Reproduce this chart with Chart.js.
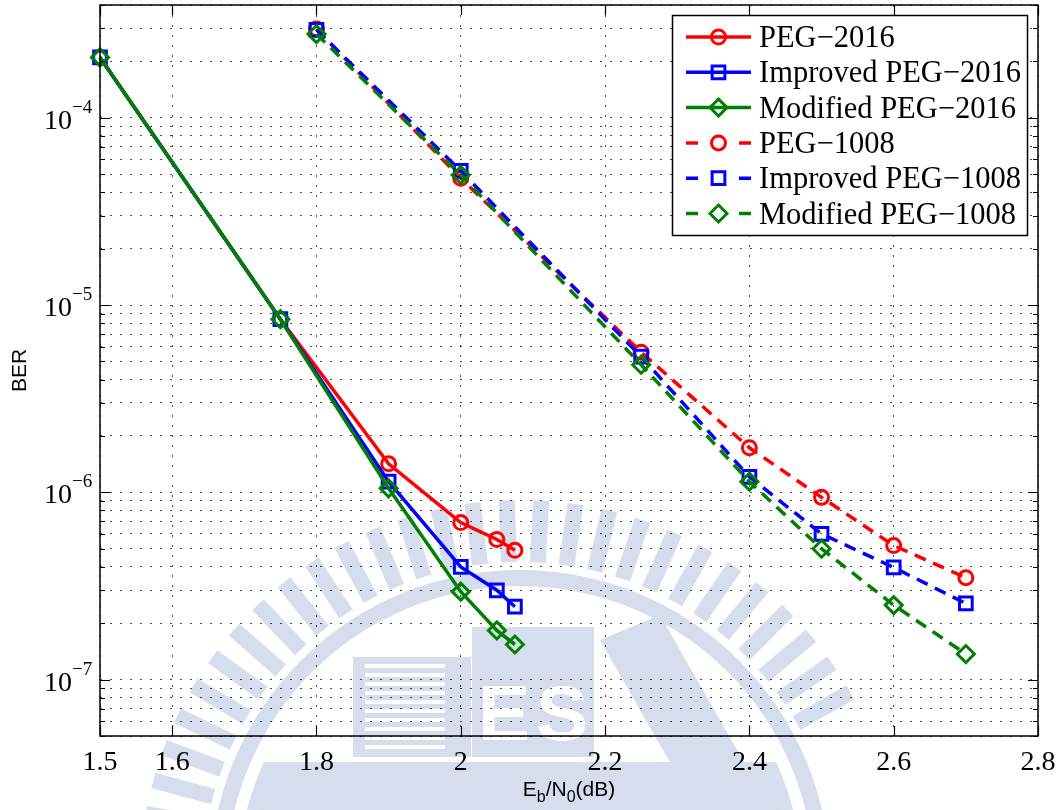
<!DOCTYPE html>
<html>
<head>
<meta charset="utf-8">
<title>BER</title>
<script src="https://cdn.jsdelivr.net/npm/chart.js@4.4.1/dist/chart.umd.min.js"></script>
<style>
  body { margin: 0; background: #fff; }
  canvas { display: block; }
</style>
</head>
<body>
<canvas id="myChart" width="1064" height="810"></canvas>
<script>
// ======================== DATA
const ebn0_2016 = [1.5, 1.75, 1.9, 2.0, 2.05, 2.075]
const peg2016 = [2.1e-4, 8.4e-6, 1.42e-6, 6.9e-7, 5.6e-7, 4.9e-7]
const improved2016 = [2.1e-4, 8.4e-6, 1.14e-6, 4.0e-7, 3.0e-7, 2.45e-7]
const modified2016 = [2.1e-4, 8.4e-6, 1.05e-6, 2.95e-7, 1.83e-7, 1.54e-7]

const ebn0_1008 = [1.8, 2.0, 2.25, 2.4, 2.5, 2.6, 2.7]
const peg1008 = [2.98e-4, 4.75e-5, 5.6e-6, 1.73e-6, 9.4e-7, 5.2e-7, 3.5e-7]
const improved1008 = [2.95e-4, 5.2e-5, 5.3e-6, 1.21e-6, 6.0e-7, 3.97e-7, 2.55e-7]
const modified1008 = [2.8e-4, 4.95e-5, 4.8e-6, 1.14e-6, 5.0e-7, 2.5e-7, 1.37e-7]

const seriesNames = ['PEG\u22122016', 'Improved PEG\u22122016', 'Modified PEG\u22122016',
                     'PEG\u22121008', 'Improved PEG\u22121008', 'Modified PEG\u22121008']

const xTicks = [1.5, 1.6, 1.8, 2.0, 2.2, 2.4, 2.6, 2.8]
const xTickLabels = ['1.5', '1.6', '1.8', '2', '2.2', '2.4', '2.6', '2.8']
const yDecades = [-8, -7, -6, -5, -4]
const yLabelExps = [-7, -6, -5, -4]
const yMin = 5e-8
const yMax = 4e-4

// ======================== STYLE
const RED = '#ff0000'
const BLUE = '#0000ff'
const GREEN = '#008000'
const SEAL = '#d6ddec'
const SERIF = '"Liberation Serif", "Times New Roman", serif'
const SANS = '"Liberation Sans", Arial, sans-serif'

function pts(xs, ys) {
  return xs.map((x, i) => ({ x: x, y: ys[i] }))
}

function series(label, xs, ys, color, style, radius, dashed, order) {
  return {
    label: label,
    data: pts(xs, ys),
    borderColor: color,
    backgroundColor: color,
    borderWidth: 3.5,
    borderDash: dashed ? [12, 8] : [],
    pointStyle: style,
    pointRadius: radius,
    pointHoverRadius: radius,
    pointBorderWidth: 3,
    pointBorderColor: color,
    pointBackgroundColor: 'rgba(0,0,0,0)',
    tension: 0,
    clip: false,
    order: order
  }
}

// all log grid values 1..9 x 10^k inside the axis range
let yGrid = []
yDecades.forEach(function (e) {
  for (let m = 1; m <= 9; m++) {
    let v = m * Math.pow(10, e)
    if (v >= yMin && v <= yMax) yGrid.push(v)
  }
})

// ======================== WATERMARK (school seal, pale blue)
function drawSeal(ctx) {
  const cx = 520, cy = 880
  ctx.save()
  ctx.fillStyle = SEAL
  // teeth ring
  for (let a = 190; a <= 335; a += 5.2) {
    let r = a * Math.PI / 180
    ctx.save()
    ctx.translate(cx, cy)
    ctx.rotate(r + Math.PI / 2)
    ctx.fillRect(-8, -380, 16, 62)
    ctx.restore()
  }
  // band under the teeth
  ctx.beginPath()
  ctx.arc(cx, cy, 310, Math.PI, 2 * Math.PI)
  ctx.arc(cx, cy, 294, 2 * Math.PI, Math.PI, true)
  ctx.fill()
  // lower disc
  ctx.beginPath()
  ctx.arc(cx, cy, 282, Math.PI * 1.08, Math.PI * 1.92)
  ctx.lineTo(cx + 250, 810)
  ctx.lineTo(cx - 250, 810)
  ctx.closePath()
  ctx.save()
  ctx.clip()
  ctx.fillRect(0, 762, 1064, 60)
  ctx.restore()
  // building with stripes
  ctx.fillRect(353, 657, 118, 100)
  ctx.fillStyle = '#fff'
  for (let y = 664; y < 752; y += 9) ctx.fillRect(365, y, 80, 4)
  // letter block
  ctx.fillStyle = SEAL
  ctx.fillRect(472, 627, 122, 130)
  ctx.fillStyle = '#fff'
  ctx.font = 'bold 78px ' + SANS
  ctx.textBaseline = 'alphabetic'
  ctx.fillText('E', 478, 740)
  ctx.fillText('S', 536, 740)
  // slanted A
  ctx.fillStyle = SEAL
  ctx.beginPath()
  ctx.moveTo(600, 640)
  ctx.lineTo(660, 615)
  ctx.lineTo(760, 790)
  ctx.lineTo(700, 815)
  ctx.closePath()
  ctx.fill()
  ctx.restore()
}

// ======================== AXES, TICKS, LABELS, LEGEND
function marker(ctx, style, x, y, r) {
  ctx.beginPath()
  if (style === 'circle') {
    ctx.arc(x, y, r, 0, Math.PI * 2)
  } else if (style === 'rect') {
    let s = r * Math.SQRT1_2
    ctx.rect(x - s, y - s, 2 * s, 2 * s)
  } else {
    ctx.moveTo(x, y - r)
    ctx.lineTo(x + r, y)
    ctx.lineTo(x, y + r)
    ctx.lineTo(x - r, y)
    ctx.closePath()
  }
  ctx.stroke()
}

const plotExtras = {
  id: 'plotExtras',
  beforeDraw(chart) {
    const ctx = chart.ctx
    ctx.save()
    ctx.fillStyle = '#fff'
    ctx.fillRect(0, 0, chart.width, chart.height)
    drawSeal(ctx)
    ctx.restore()
  },
  afterDraw(chart) {
    const ctx = chart.ctx
    const a = chart.chartArea
    const xs = chart.scales.x
    const ys = chart.scales.y
    ctx.save()

    // box
    ctx.strokeStyle = '#000'
    ctx.lineWidth = 1.5
    ctx.setLineDash([])
    ctx.strokeRect(a.left, a.top, a.right - a.left, a.bottom - a.top)

    // inward ticks
    ctx.lineWidth = 1.2
    ctx.beginPath()
    xTicks.forEach(function (v) {
      let px = Math.round(xs.getPixelForValue(v)) + 0.5
      ctx.moveTo(px, a.bottom); ctx.lineTo(px, a.bottom - 10)
      ctx.moveTo(px, a.top); ctx.lineTo(px, a.top + 10)
    })
    yGrid.forEach(function (v) {
      let py = Math.round(ys.getPixelForValue(v)) + 0.5
      let major = Math.abs(Math.log10(v) - Math.round(Math.log10(v))) < 1e-9
      let len = major ? 10 : 5
      ctx.moveTo(a.left, py); ctx.lineTo(a.left + len, py)
      ctx.moveTo(a.right, py); ctx.lineTo(a.right - len, py)
    })
    ctx.stroke()

    // x tick labels
    ctx.fillStyle = '#000'
    ctx.font = '28px ' + SERIF
    ctx.textAlign = 'center'
    ctx.textBaseline = 'alphabetic'
    xTicks.forEach(function (v, i) {
      ctx.fillText(xTickLabels[i], xs.getPixelForValue(v), 770)
    })

    // y tick labels 10^k
    yLabelExps.forEach(function (e) {
      let py = ys.getPixelForValue(Math.pow(10, e))
      ctx.font = '28px ' + SERIF
      ctx.textAlign = 'right'
      ctx.fillText('10', 72, py + 11)
      ctx.font = '19px ' + SERIF
      ctx.textAlign = 'left'
      ctx.fillText('\u2212' + Math.abs(e), 72, py - 5)
    })

    // axis titles
    ctx.textAlign = 'left'
    let parts = [['E', 0, 21], ['b', 6, 16], ['/N', 0, 21], ['0', 6, 16], ['(dB)', 0, 21]]
    let w = 0
    parts.forEach(function (p) { ctx.font = p[2] + 'px ' + SANS; w += ctx.measureText(p[0]).width })
    let tx = (a.left + a.right) / 2 - w / 2
    parts.forEach(function (p) {
      ctx.font = p[2] + 'px ' + SANS
      ctx.fillText(p[0], tx, 796 + p[1])
      tx += ctx.measureText(p[0]).width
    })
    ctx.save()
    ctx.translate(26, (a.top + a.bottom) / 2)
    ctx.rotate(-Math.PI / 2)
    ctx.font = '21px ' + SANS
    ctx.textAlign = 'center'
    ctx.fillText('BER', 0, 0)
    ctx.restore()

    // legend
    const lx = 672, ly = 15, lw = 355, lh = 220
    ctx.fillStyle = '#fff'
    ctx.fillRect(lx, ly, lw, lh)
    ctx.strokeStyle = '#000'
    ctx.lineWidth = 1.5
    ctx.strokeRect(lx + 0.5, ly + 0.5, lw, lh)
    chart.data.datasets.forEach(function (ds, i) {
      let cy = 37 + i * 35.3
      ctx.strokeStyle = ds.borderColor
      ctx.lineWidth = 3.5
      ctx.beginPath()
      if (ds.borderDash.length) {
        ctx.moveTo(686, cy); ctx.lineTo(698, cy)
        ctx.moveTo(739, cy); ctx.lineTo(751, cy)
      } else {
        ctx.moveTo(686, cy); ctx.lineTo(751, cy)
      }
      ctx.stroke()
      ctx.lineWidth = 3
      marker(ctx, ds.pointStyle, 718.5, cy, ds.pointRadius)
      ctx.fillStyle = '#000'
      ctx.font = '30.5px ' + SERIF
      ctx.textAlign = 'left'
      ctx.fillText(ds.label, 759, cy + 10)
    })
    ctx.restore()
  }
}

// ======================== CHART
const ctx = document.getElementById('myChart')

new Chart(ctx, {
  type: 'line',
  data: {
    datasets: [
      series(seriesNames[0], ebn0_2016, peg2016, RED, 'circle', 7, false, 6),
      series(seriesNames[1], ebn0_2016, improved2016, BLUE, 'rect', 9, false, 5),
      series(seriesNames[2], ebn0_2016, modified2016, GREEN, 'rectRot', 8.5, false, 4),
      series(seriesNames[3], ebn0_1008, peg1008, RED, 'circle', 7, true, 3),
      series(seriesNames[4], ebn0_1008, improved1008, BLUE, 'rect', 9, true, 2),
      series(seriesNames[5], ebn0_1008, modified1008, GREEN, 'rectRot', 8.5, true, 1)
    ]
  },
  options: {
    responsive: false,
    devicePixelRatio: 1,
    animation: false,
    events: [],
    layout: { autoPadding: false, padding: { top: 5, right: 26, left: 0, bottom: 0 } },
    plugins: {
      legend: { display: false },
      tooltip: { enabled: false }
    },
    scales: {
      x: {
        type: 'linear',
        min: 1.5,
        max: 2.8,
        afterBuildTicks: function (scale) { scale.ticks = xTicks.map(v => ({ value: v })) },
        afterFit: function (scale) { scale.height = 74 },
        ticks: { display: false },
        grid: { color: 'rgba(0,0,0,0.7)', lineWidth: 1, drawTicks: false },
        border: { display: false, dash: [2, 8] }
      },
      y: {
        type: 'logarithmic',
        min: yMin,
        max: yMax,
        afterBuildTicks: function (scale) { scale.ticks = yGrid.map(v => ({ value: v })) },
        afterFit: function (scale) { scale.width = 100 },
        ticks: { display: false },
        grid: { color: 'rgba(0,0,0,0.7)', lineWidth: 1, drawTicks: false },
        border: { display: false, dash: [2, 8] }
      }
    }
  },
  plugins: [plotExtras]
})
</script>
</body>
</html>
